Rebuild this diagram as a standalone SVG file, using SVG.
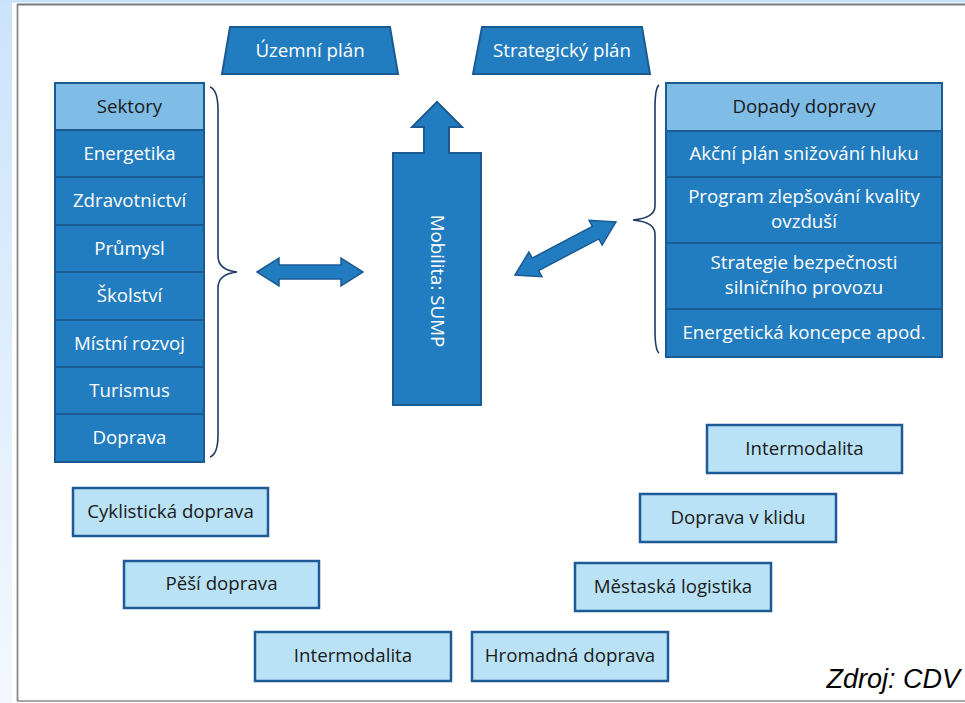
<svg xmlns="http://www.w3.org/2000/svg" width="965" height="703" viewBox="0 0 965 703">
<defs>
<linearGradient id="strip" x1="0" y1="0" x2="0" y2="1">
<stop offset="0" stop-color="#cbe3fb"/>
<stop offset="1" stop-color="#f3f8fe"/>
</linearGradient>
<style>
.dk{fill:#227cc0;stroke:#1b5a93;stroke-width:2}
.hd{fill:#7fbde7;stroke:#1b5a93;stroke-width:2}
.lt{fill:#b9e2f6;stroke:#1d5a96;stroke-width:2.5}
.tw{font-family:"Open Sans","Noto Sans",sans-serif;font-size:18.7px;fill:#ffffff;text-anchor:middle}
.tb{font-family:"Open Sans","Noto Sans",sans-serif;font-size:18.7px;fill:#1a1a1a;text-anchor:middle}
.br{fill:none;stroke:#1f3a63;stroke-width:1.6}
.ar{fill:#227cc0;stroke:#1b5a93;stroke-width:1.5;stroke-linejoin:miter}
</style>
</defs>
<rect x="0" y="0" width="965" height="703" fill="#ffffff"/>
<rect x="0" y="0" width="12" height="703" fill="url(#strip)"/>
<rect x="0" y="0" width="965" height="2.5" fill="#c8e2fa"/>
<line x1="17" y1="4.5" x2="965" y2="4.5" stroke="#7a7a7a" stroke-width="1.8"/>
<line x1="17.5" y1="4" x2="17.5" y2="701" stroke="#8a8a8a" stroke-width="1.8"/>
<line x1="17" y1="701" x2="965" y2="701" stroke="#8a8a8a" stroke-width="1.5"/>

<g id="uzemni-plan">
<polygon class="dk" points="230,27 390,27 398,74 222,74"/>
<text class="tw" x="310" y="57">Územní plán</text>
</g>
<g id="strategicky-plan">
<polygon class="dk" points="482,27 642,27 650,74 473,74"/>
<text class="tw" x="562" y="57">Strategický plán</text>
</g>

<g id="sektory">
<g id="s-head"><rect class="hd" x="55" y="83" width="149" height="47"/><text class="tb" x="129.5" y="113">Sektory</text></g>
<g id="s-energetika"><rect class="dk" x="55" y="130" width="149" height="47"/><text class="tw" x="129.5" y="160">Energetika</text></g>
<g id="s-zdravotnictvi"><rect class="dk" x="55" y="177" width="149" height="48"/><text class="tw" x="129.5" y="207">Zdravotnictví</text></g>
<g id="s-prumysl"><rect class="dk" x="55" y="225" width="149" height="47"/><text class="tw" x="129.5" y="255">Průmysl</text></g>
<g id="s-skolstvi"><rect class="dk" x="55" y="272" width="149" height="48"/><text class="tw" x="129.5" y="302">Školství</text></g>
<g id="s-mistni"><rect class="dk" x="55" y="320" width="149" height="47"/><text class="tw" x="129.5" y="350">Místní rozvoj</text></g>
<g id="s-turismus"><rect class="dk" x="55" y="367" width="149" height="47"/><text class="tw" x="129.5" y="397">Turismus</text></g>
<g id="s-doprava"><rect class="dk" x="55" y="414" width="149" height="48"/><text class="tw" x="129.5" y="444">Doprava</text></g>
</g>

<g id="dopady">
<g id="d-head"><rect class="hd" x="666" y="83" width="276" height="48"/><text class="tb" x="804" y="113">Dopady dopravy</text></g>
<g id="d-hluk"><rect class="dk" x="666" y="131" width="276" height="46"/><text class="tw" x="804" y="160">Akční plán snižování hluku</text></g>
<g id="d-ovzdusi"><rect class="dk" x="666" y="177" width="276" height="66"/><text class="tw" x="804" y="203">Program zlepšování kvality</text><text class="tw" x="804" y="228">ovzduší</text></g>
<g id="d-bezpecnost"><rect class="dk" x="666" y="243" width="276" height="66"/><text class="tw" x="804" y="269">Strategie bezpečnosti</text><text class="tw" x="804" y="294">silničního provozu</text></g>
<g id="d-energie"><rect class="dk" x="666" y="309" width="276" height="48"/><text class="tw" x="804" y="339">Energetická koncepce apod.</text></g>
</g>

<g id="mobilita">
<path class="dk" d="M393,153 L424,153 L424,127 L412,127 L437,102 L462,127 L449,127 L449,153 L481,153 L481,405 L393,405 Z"/>
<text class="tw" transform="translate(437,281) rotate(90)" y="6">Mobilita: SUMP</text>
</g>

<g id="cyklisticka"><rect class="lt" x="73" y="488" width="195" height="48"/><text class="tb" x="170.5" y="518">Cyklistická doprava</text></g>
<g id="pesi"><rect class="lt" x="124" y="561" width="195" height="47"/><text class="tb" x="221.5" y="590">Pěší doprava</text></g>
<g id="intermodalita-l"><rect class="lt" x="255" y="632" width="196" height="49"/><text class="tb" x="353" y="662">Intermodalita</text></g>
<g id="intermodalita-r"><rect class="lt" x="707" y="425" width="195" height="48"/><text class="tb" x="804.5" y="455">Intermodalita</text></g>
<g id="klid"><rect class="lt" x="640" y="494" width="196" height="48"/><text class="tb" x="738" y="524">Doprava v klidu</text></g>
<g id="logistika"><rect class="lt" x="575" y="563" width="196" height="48"/><text class="tb" x="673" y="593">Městaská logistika</text></g>
<g id="hromadna"><rect class="lt" x="472" y="632" width="196" height="49"/><text class="tb" x="570" y="662">Hromadná doprava</text></g>

<g id="connectors">
<path class="br" d="M210,87 Q218,90 218,110 L218,256 Q218,270 237,272 Q218,274 218,288 L218,435 Q218,454 210,457"/>
<path class="br" d="M659,85 Q655,88 655,108 L655,206 Q655,218 633,220 Q655,222 655,234 L655,330 Q655,350 659,353"/>
<path class="ar" transform="translate(310,272)" d="M-53,0 L-31,-14 L-31,-7 L31,-7 L31,-14 L53,0 L31,14 L31,7 L-31,7 L-31,14 Z"/>
<path class="ar" transform="translate(565.5,248.5) rotate(-27.7)" d="M-57,0 L-34,-14 L-34,-7 L34,-7 L34,-14 L57,0 L34,14 L34,7 L-34,7 L-34,14 Z"/>
</g>

<text x="960" y="688" font-family="'Liberation Sans',Arial,sans-serif" font-style="italic" font-size="27" fill="#000000" text-anchor="end">Zdroj: CDV</text>
</svg>
